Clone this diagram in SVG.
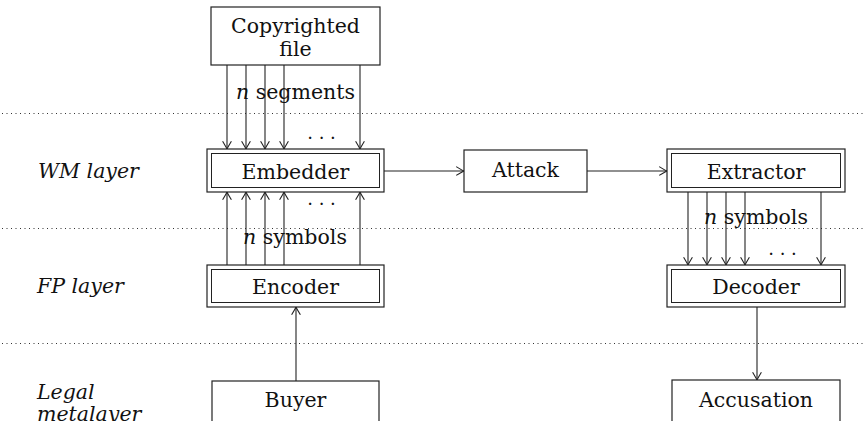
<svg xmlns="http://www.w3.org/2000/svg" width="866" height="421" viewBox="0 0 866 421">
<defs>
<style>
.t{font-family:"DejaVu Serif","Liberation Serif",serif;font-size:20.5px;fill:#111;text-anchor:middle}
.l{font-family:"DejaVu Serif","Liberation Serif",serif;font-size:20.5px;font-style:italic;fill:#111}
.box{fill:#fff;stroke:#222;stroke-width:1.2}
.in{fill:none;stroke:#222;stroke-width:1}
.c{fill:none;stroke:#222;stroke-width:1.1}
.a{marker-end:url(#arr)}
.dot{stroke:#333;stroke-width:1;stroke-dasharray:1 3.5;fill:none}
.dots{font-family:"DejaVu Serif",serif;font-size:18px;fill:#111;text-anchor:middle}
</style>
<marker id="arr" markerWidth="12" markerHeight="12" refX="9" refY="6" orient="auto" markerUnits="userSpaceOnUse">
<path d="M1.2,1.6 Q6.5,4.8 9,6 Q6.5,7.2 1.2,10.4" fill="none" stroke="#222" stroke-width="1.1"/>
</marker>
</defs>
<rect width="866" height="421" fill="#fff"/>
<g id="layers">
<line class="dot" x1="2" y1="113.5" x2="866" y2="113.5"/>
<line class="dot" x1="2" y1="228.5" x2="866" y2="228.5"/>
<line class="dot" x1="2" y1="343.5" x2="866" y2="343.5"/>
<text class="l" x="38" y="178">WM layer</text>
<text class="l" x="37" y="293">FP layer</text>
<text class="l" x="37" y="399">Legal</text>
<text class="l" x="37" y="421">metalayer</text>
</g>
<g id="connectors">
<line class="c a" x1="227" y1="65" x2="227" y2="149"/>
<line class="c a" x1="246" y1="65" x2="246" y2="149"/>
<line class="c a" x1="265" y1="65" x2="265" y2="149"/>
<line class="c a" x1="284" y1="65" x2="284" y2="149"/>
<line class="c a" x1="360" y1="65" x2="360" y2="149"/>
<line class="c a" x1="227" y1="265" x2="227" y2="192"/>
<line class="c a" x1="246" y1="265" x2="246" y2="192"/>
<line class="c a" x1="265" y1="265" x2="265" y2="192"/>
<line class="c a" x1="284" y1="265" x2="284" y2="192"/>
<line class="c a" x1="360" y1="265" x2="360" y2="192"/>
<line class="c a" x1="296" y1="381" x2="296" y2="307"/>
<line class="c a" x1="384" y1="171" x2="464" y2="171"/>
<line class="c a" x1="587" y1="171" x2="667" y2="171"/>
<line class="c a" x1="688" y1="192" x2="688" y2="265"/>
<line class="c a" x1="707" y1="192" x2="707" y2="265"/>
<line class="c a" x1="726" y1="192" x2="726" y2="265"/>
<line class="c a" x1="745" y1="192" x2="745" y2="265"/>
<line class="c a" x1="821" y1="192" x2="821" y2="265"/>
<line class="c a" x1="757" y1="307" x2="757" y2="380"/>
<text class="t" x="295.5" y="99"><tspan font-style="italic">n</tspan> segments</text>
<text class="t" x="295" y="244"><tspan font-style="italic">n</tspan> symbols</text>
<text class="t" x="756" y="224"><tspan font-style="italic">n</tspan> symbols</text>
<text class="dots" x="321.5" y="139">. . .</text>
<text class="dots" x="321.5" y="205">. . .</text>
<text class="dots" x="782.5" y="255">. . .</text>
</g>
<g id="copyrighted">
<rect class="box" x="211" y="7" width="169" height="58"/>
<text class="t" x="295.5" y="33">Copyrighted</text>
<text class="t" x="295.5" y="56">file</text>
</g>
<g id="embedder">
<rect class="box" x="207" y="149" width="177" height="43"/>
<rect class="in" x="211.5" y="153.5" width="168" height="34"/>
<text class="t" x="295.5" y="179">Embedder</text>
</g>
<g id="attack">
<rect class="box" x="464" y="150" width="123" height="42"/>
<text class="t" x="525.5" y="177">Attack</text>
</g>
<g id="extractor">
<rect class="box" x="667" y="149" width="178" height="43"/>
<rect class="in" x="671.5" y="153.5" width="169" height="34"/>
<text class="t" x="756" y="179">Extractor</text>
</g>
<g id="encoder">
<rect class="box" x="207" y="265" width="177" height="42"/>
<rect class="in" x="211.5" y="269.5" width="168" height="33"/>
<text class="t" x="295.5" y="294">Encoder</text>
</g>
<g id="decoder">
<rect class="box" x="667" y="265" width="178" height="42"/>
<rect class="in" x="671.5" y="269.5" width="169" height="33"/>
<text class="t" x="756" y="294">Decoder</text>
</g>
<g id="buyer">
<rect class="box" x="212" y="381" width="167" height="60"/>
<text class="t" x="295.5" y="407">Buyer</text>
</g>
<g id="accusation">
<rect class="box" x="672" y="380" width="168" height="60"/>
<text class="t" x="756" y="407">Accusation</text>
</g>
</svg>
